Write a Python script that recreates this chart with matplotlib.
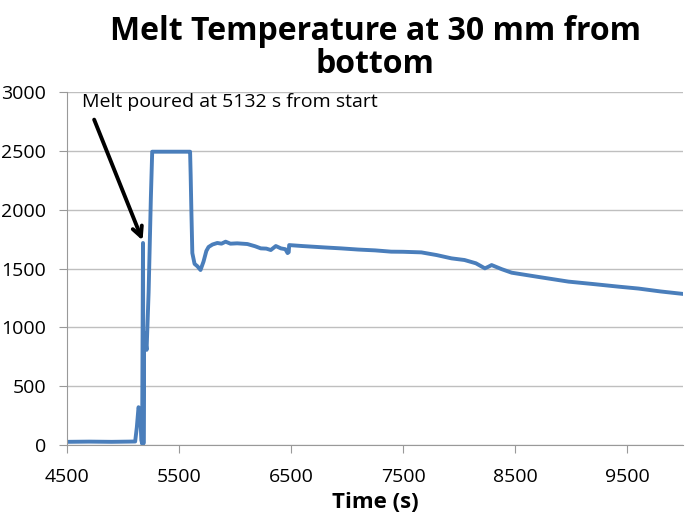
import matplotlib.pyplot as plt

# time (s) and melt temperature
time_s = [4500, 4700, 4900, 5050, 5110, 5125, 5140, 5155, 5165, 5172, 5176,
          5180, 5184, 5190, 5200, 5212, 5230, 5250, 5262, 5300, 5400, 5500,
          5590, 5600, 5605, 5612, 5620, 5640, 5665, 5693, 5720, 5745, 5765,
          5800, 5843, 5880, 5917, 5960, 6020, 6111, 6180, 6231, 6280, 6320,
          6365, 6410, 6450, 6470, 6480, 6484, 6600, 6800, 6947, 7100, 7250,
          7394, 7500, 7600, 7663, 7800, 7932, 8048, 8150, 8230, 8260, 8290,
          8380, 8469, 8700, 8976, 9200, 9424, 9600, 9800, 10000]
temp = [25, 27, 25, 27, 28, 150, 320, 280, 40, 10, 900,
        1718, 10, 950, 900, 808, 1300, 2100, 2495, 2495, 2495, 2495,
        2495, 2495, 2300, 1970, 1632, 1540, 1520, 1488, 1560, 1650, 1684,
        1705, 1718, 1712, 1729, 1712, 1715, 1709, 1690, 1672, 1670, 1658,
        1692, 1672, 1665, 1632, 1640, 1700, 1692, 1680, 1672, 1662, 1655,
        1644, 1643, 1640, 1638, 1615, 1587, 1573, 1545, 1502, 1515, 1530,
        1495, 1465, 1430, 1389, 1368, 1346, 1330, 1305, 1284]

xticks = [4500, 5500, 6500, 7500, 8500, 9500]
yticks = [0, 500, 1000, 1500, 2000, 2500, 3000]

fig = plt.figure(figsize=(6.85, 5.19), dpi=100)
ax = fig.add_axes([0.0975, 0.143, 0.9, 0.679])

ax.plot(time_s, temp, color='#4a7ebb', lw=2.8, solid_joinstyle='round')

ax.set_xlim(4500, 10000)
ax.set_ylim(0, 3000)
ax.set_xticks(xticks)
ax.set_yticks(yticks)
ax.grid(axis='y', color='#bfbfbf', lw=1)
ax.set_axisbelow(True)
for s in ['top', 'right']:
    ax.spines[s].set_visible(False)
for s in ['left', 'bottom']:
    ax.spines[s].set_color('#999999')
ax.tick_params(colors='#999999', labelcolor='black', length=6, labelsize=14,
               pad=9)
ax.tick_params(axis='x', pad=11)
for lab in ax.get_xticklabels() + ax.get_yticklabels():
    lab.set_family('Open Sans')

ax.set_title('Melt Temperature at 30 mm from\nbottom', fontsize=23,
             fontweight='bold', family='Open Sans', pad=14, linespacing=1.0)
ax.set_xlabel('Time (s)', fontsize=16, fontweight='bold', family='Open Sans',
              labelpad=4)

ax.text(4640, 2920, 'Melt poured at 5132 s from start', fontsize=14,
        family='Open Sans', va='center')
ax.annotate('', xy=(5185, 1718), xytext=(4735, 2790),
            arrowprops=dict(arrowstyle='->,head_length=0.7,head_width=0.35',
                            color='black', lw=2.8))

fig.savefig('out.png')
